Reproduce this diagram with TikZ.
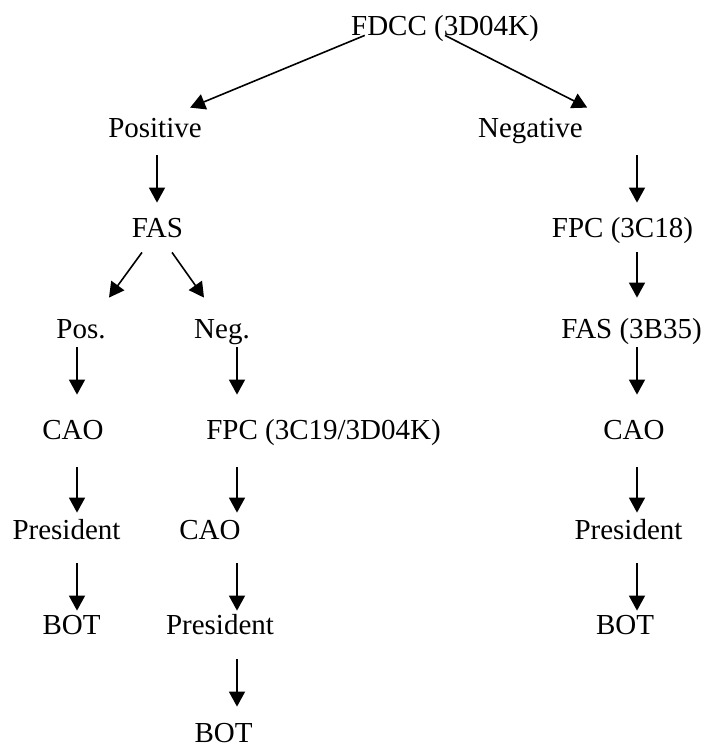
\documentclass[tikz,border=0pt]{standalone}
\usepackage{fontspec}
\setmainfont{Liberation Serif}
\usepackage{tikz}
\usetikzlibrary{calc,arrows.meta}

\tikzset{
  lbl/.style={inner sep=0pt, text height=9.5pt, text depth=0pt, anchor=base,
    font=\fontsize{14.5}{17}\selectfont},
  arr/.style={line width=.8pt, -{Triangle[length=7.5pt,width=8pt]}}
}

\begin{document}
\begin{tikzpicture}[x=.5pt,y=-.5pt]

\useasboundingbox (0,0) rectangle (708,746);

% columns of the down arrows
\coordinate (colL) at (77,0);
\coordinate (colP) at (157,0);
\coordinate (colM) at (237,0);
\coordinate (colR) at (637,0);

\node[lbl] (fdcc) at (445,35) {FDCC (3D04K)};

\node[lbl] (pos) at (155,137) {Positive};
\node[lbl] (neg) at (530.5,137) {Negative};

\node[lbl] (fas) at (157.5,237) {FAS};
\node[lbl] (fpcr) at (622.5,237) {FPC (3C18)};

\node[lbl] (pshort) at (81,338) {Pos.};
\node[lbl] (nshort) at (222,338) {Neg.};
\node[lbl] (fasr) at (631.5,338) {FAS (3B35)};

\node[lbl] (caol) at (73,439) {CAO};
\node[lbl] (fpcm) at (323.5,439) {FPC (3C19/3D04K)};
\node[lbl] (caor) at (634,439) {CAO};

\node[lbl] (presl) at (66.5,539) {President};
\node[lbl] (caom) at (210,539) {CAO};
\node[lbl] (presr) at (628.5,539) {President};

\node[lbl] (botl) at (71.5,634) {BOT};
\node[lbl] (presm) at (220,634) {President};
\node[lbl] (botr) at (625,634) {BOT};

\node[lbl] (botm) at (223.5,742) {BOT};

% top split
\draw[arr] ([xshift=7pt]fdcc.south west) -- ([xshift=-6pt,yshift=5pt]pos.north east);
\draw[arr] (fdcc.south) -- ([xshift=2pt,yshift=5pt]neg.north east);

% FAS split
\draw[arr] ([xshift=-7.75pt,yshift=-7.5pt]fas.south) -- ([xshift=14pt,yshift=10.5pt]pshort.north);
\draw[arr] ([xshift=7.25pt,yshift=-7.5pt]fas.south) -- ([xshift=-9pt,yshift=10.5pt]nshort.north);

% left branch
\draw[arr, shorten <=9pt, shorten >=7.5pt] (pos.south -| colP) -- (fas.north -| colP);
\draw[arr, shorten <=4.5pt, shorten >=12.5pt] (pshort.south -| colL) -- (caol.north -| colL);
\draw[arr, shorten <=14pt, shorten >=3.5pt] (caol.south -| colL) -- (presl.north -| colL);
\draw[arr, shorten <=12pt, shorten >=2pt] (presl.south -| colL) -- (botl.north -| colL);

% middle branch
\draw[arr, shorten <=4.5pt, shorten >=12.5pt] (nshort.south -| colM) -- (fpcm.north -| colM);
\draw[arr, shorten <=14pt, shorten >=3.5pt] (fpcm.south -| colM) -- (caom.north -| colM);
\draw[arr, shorten <=12pt, shorten >=2pt] (caom.south -| colM) -- (presm.north -| colM);
\draw[arr, shorten <=12.5pt, shorten >=8pt] (presm.south -| colM) -- (botm.north -| colM);

% right branch
\draw[arr, shorten <=9pt, shorten >=7.5pt] (neg.south -| colR) -- (fpcr.north -| colR);
\draw[arr, shorten <=7.5pt, shorten >=10.5pt] (fpcr.south -| colR) -- (fasr.north -| colR);
\draw[arr, shorten <=4.5pt, shorten >=12.5pt] (fasr.south -| colR) -- (caor.north -| colR);
\draw[arr, shorten <=14pt, shorten >=3.5pt] (caor.south -| colR) -- (presr.north -| colR);
\draw[arr, shorten <=12pt, shorten >=2pt] (presr.south -| colR) -- (botr.north -| colR);

\end{tikzpicture}
\end{document}
